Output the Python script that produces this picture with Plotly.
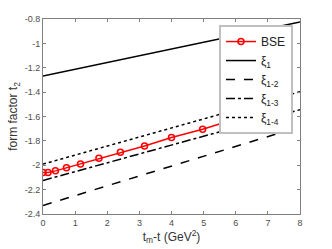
import plotly.graph_objects as go

# BSE data
bse_x = [0.0, 0.156, 0.387, 0.73, 1.167, 1.74, 2.41, 3.16, 4.0, 4.97, 5.99, 7.1]
bse_y = [-2.060, -2.060, -2.046, -2.021, -1.989, -1.942, -1.893, -1.842, -1.773, -1.704, -1.620, -1.535]

# straight-line parametrisations (endpoints)
line_x = [0, 8]
xi1_y = [-1.267, -0.825]
xi12_y = [-2.330, -1.684]
xi13_y = [-2.125, -1.544]
xi14_y = [-1.991, -1.397]

x_ticks = [0, 1, 2, 3, 4, 5, 6, 7, 8]
y_ticks = [-2.4, -2.2, -2.0, -1.8, -1.6, -1.4, -1.2, -1.0, -0.8]
y_tick_text = ["-2.4", "-2.2", "-2", "-1.8", "-1.6", "-1.4", "-1.2", "-1", "-0.8"]

FONT = "Liberation Sans, Arial, sans-serif"

fig = go.Figure()
fig.add_trace(go.Scatter(x=bse_x, y=bse_y, mode="lines+markers", name="BSE",
                         line=dict(color="#ff0000", width=1.5),
                         marker=dict(symbol="circle-open", size=6, color="#ff0000",
                                     line=dict(width=1.5, color="#ff0000"))))
fig.add_trace(go.Scatter(x=line_x, y=xi1_y, mode="lines", name="ξ<sub>1</sub>",
                         line=dict(color="black", width=1.5)))
fig.add_trace(go.Scatter(x=line_x, y=xi12_y, mode="lines", name="ξ<sub>1-2</sub>",
                         line=dict(color="black", width=1.5, dash="dash")))
fig.add_trace(go.Scatter(x=line_x, y=xi13_y, mode="lines", name="ξ<sub>1-3</sub>",
                         line=dict(color="black", width=1.5, dash="dashdot")))
fig.add_trace(go.Scatter(x=line_x, y=xi14_y, mode="lines", name="ξ<sub>1-4</sub>",
                         line=dict(color="black", width=1.5, dash="dot")))

axis_common = dict(showgrid=False, zeroline=False, showline=True, mirror="ticks",
                   linecolor="#808080", linewidth=1, ticks="inside", ticklen=3,
                   tickcolor="#808080", automargin=False,
                   tickfont=dict(size=9, color="#4d4d4d", family=FONT))

fig.update_layout(
    width=332, height=249,
    margin=dict(l=43, r=32, t=19, b=35),
    plot_bgcolor="white", paper_bgcolor="white",
    font=dict(family=FONT, color="#333333"),
    xaxis=dict(range=[0, 8], tickvals=x_ticks, **axis_common,
               title=dict(text="t<sub>m</sub>-t (GeV<sup>2</sup>)", font=dict(size=12, color="#333333"),
                          standoff=2)),
    yaxis=dict(range=[-2.4, -0.8], tickvals=y_ticks, ticktext=y_tick_text, **axis_common,
               title=dict(text="form factor t<sub>2</sub>", font=dict(size=12, color="#333333"),
                          standoff=4)),
    legend=dict(x=1.0 - (300 - 293) / 256.4, y=0.969, xanchor="right", yanchor="top",
                bgcolor="white", bordercolor="#c0c0c0", borderwidth=2,
                font=dict(size=12, family=FONT, color="#222222"),
                tracegroupgap=0, itemwidth=30),
    showlegend=True,
)

fig.write_html("out.html", config={"displayModeBar": False},
               post_script="document.body.style.margin='0px';document.body.style.overflow='hidden';")
